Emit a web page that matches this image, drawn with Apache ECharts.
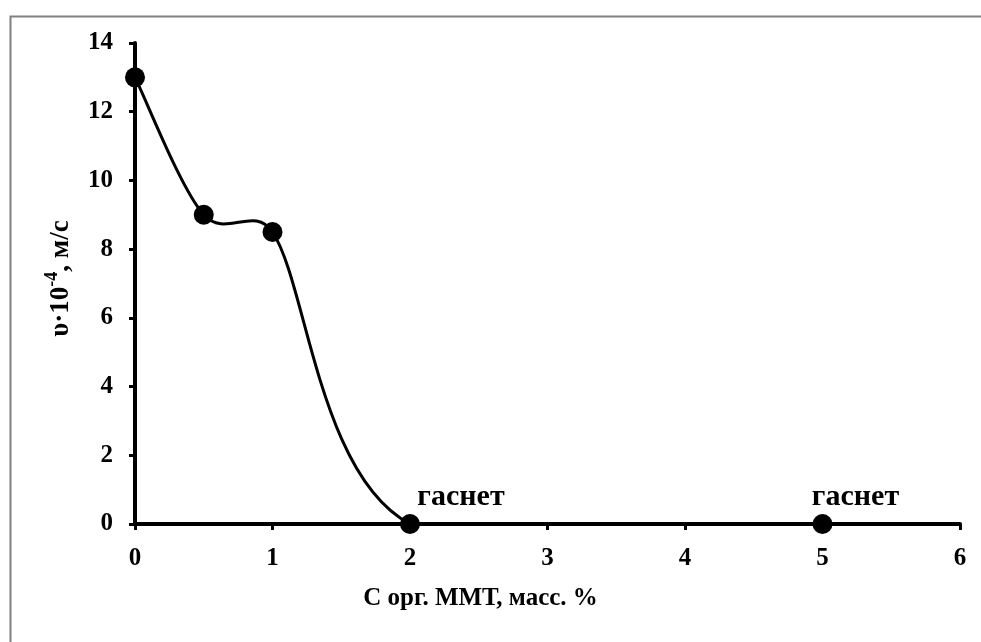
<!DOCTYPE html>
<html><head><meta charset="utf-8">
<script src="https://cdn.jsdelivr.net/npm/echarts@6/dist/echarts.min.js"></script>
<style>html,body{margin:0;padding:0;background:#fff}#c{width:981px;height:642px}</style>
</head><body><div id="c"></div>
<script>
const concX = [0, 0.5, 1, 2, 5];
const speedY = [13, 9, 8.5, 0, 0];
const notes = ['', '', '', 'гаснет', 'гаснет'];
const xTicks = [0, 1, 2, 3, 4, 5, 6];
const yTicks = [0, 2, 4, 6, 8, 10, 12, 14];
const xTitle = 'C орг. ММТ, масс. %';

const font = '"Liberation Serif", "Times New Roman", serif';
const pts = concX.map((x, i) => [x, speedY[i]]);
const chart = echarts.init(document.getElementById('c'));

// spreadsheet-style smoothed curve: Catmull-Rom tangents, limited by neighbouring segment lengths
function renderSeg(params, api) {
  const i = params.dataIndex;
  const n = pts.length;
  if (i >= n - 1) return null;
  const P = j => api.coord(pts[Math.max(0, Math.min(n - 1, j))]);
  const dist = (a, b) => Math.hypot(a[0] - b[0], a[1] - b[1]);
  function ctrl(k) {
    const pp = P(k - 1), pc = P(k), pn = P(k + 1);
    const v = [pn[0] - pp[0], pn[1] - pp[1]];
    const d0 = dist(pc, pp), d1 = dist(pn, pc), s = d0 + d1 || 1;
    const kin = Math.min(1 / 6, 0.5 * d0 / s), kout = Math.min(1 / 6, 0.5 * d1 / s);
    return {
      inp: [pc[0] - v[0] * kin, pc[1] - v[1] * kin],
      out: [pc[0] + v[0] * kout, pc[1] + v[1] * kout]
    };
  }
  const p1 = P(i), p2 = P(i + 1);
  const style = {stroke: '#000', lineWidth: 3, fill: 'none'};
  if (i === n - 2) {
    return {type: 'line', shape: {x1: p1[0], y1: p1[1], x2: p2[0], y2: p2[1]}, style: style};
  }
  const c1 = ctrl(i).out, c2 = ctrl(i + 1).inp;
  return {
    type: 'bezierCurve',
    shape: {x1: p1[0], y1: p1[1], x2: p2[0], y2: p2[1],
      cpx1: c1[0], cpy1: c1[1], cpx2: c2[0], cpy2: c2[1]},
    style: style
  };
}

chart.setOption({
  animation: false,
  backgroundColor: '#fff',
  grid: {left: 135, right: 21, top: 43, bottom: 118},
  graphic: [{
    type: 'rect', left: 8, top: 14, z: -1,
    shape: {width: 990, height: 650},
    style: {fill: 'none', stroke: '#808080', lineWidth: 2}
  }],
  xAxis: {
    type: 'value', min: xTicks[0], max: xTicks[xTicks.length - 1], interval: 1,
    name: xTitle, nameLocation: 'middle', nameGap: 62,
    nameTextStyle: {fontFamily: font, fontWeight: 'bold', fontSize: 25, color: '#000', padding: [0, 134, 0, 0]},
    axisLine: {lineStyle: {color: '#000', width: 4}},
    axisTick: {show: true, inside: false, length: 6, lineStyle: {color: '#000', width: 3}},
    axisLabel: {fontFamily: font, fontWeight: 'bold', fontSize: 25, color: '#000', margin: 22},
    splitLine: {show: false}
  },
  yAxis: {
    type: 'value', min: yTicks[0], max: yTicks[yTicks.length - 1], interval: 2,
    name: '{a|υ·10}{s|-4}{a|, м/с}', nameLocation: 'middle', nameGap: 60, nameRotate: 90,
    nameTextStyle: {
      fontFamily: font, fontWeight: 'bold', fontSize: 27, color: '#000', padding: [0, 0, 0, 10],
      rich: {
        a: {fontFamily: font, fontWeight: 'bold', fontSize: 27, color: '#000', lineHeight: 32, verticalAlign: 'bottom'},
        s: {fontFamily: font, fontWeight: 'bold', fontSize: 18, color: '#000', lineHeight: 32, verticalAlign: 'top'}
      }
    },
    axisLine: {show: true, lineStyle: {color: '#000', width: 4}},
    axisTick: {show: true, inside: false, length: 6, lineStyle: {color: '#000', width: 3}},
    axisLabel: {fontFamily: font, fontWeight: 'bold', fontSize: 25, color: '#000', margin: 22},
    splitLine: {show: false}
  },
  series: [{
    type: 'custom',
    renderItem: renderSeg,
    data: pts,
    encode: {x: 0, y: 1},
    z: 2
  }, {
    type: 'scatter',
    data: pts.map((p, i) => ({
      value: p,
      label: {show: !!notes[i], formatter: notes[i], offset: [i === 3 ? 51 : 33, 0]}
    })),
    symbol: 'circle', symbolSize: 20,
    itemStyle: {color: '#000', opacity: 1},
    label: {position: 'top', distance: 2,
      fontFamily: font, fontWeight: 'bold', fontSize: 30, color: '#000'},
    z: 4
  }]
});
</script></body></html>
